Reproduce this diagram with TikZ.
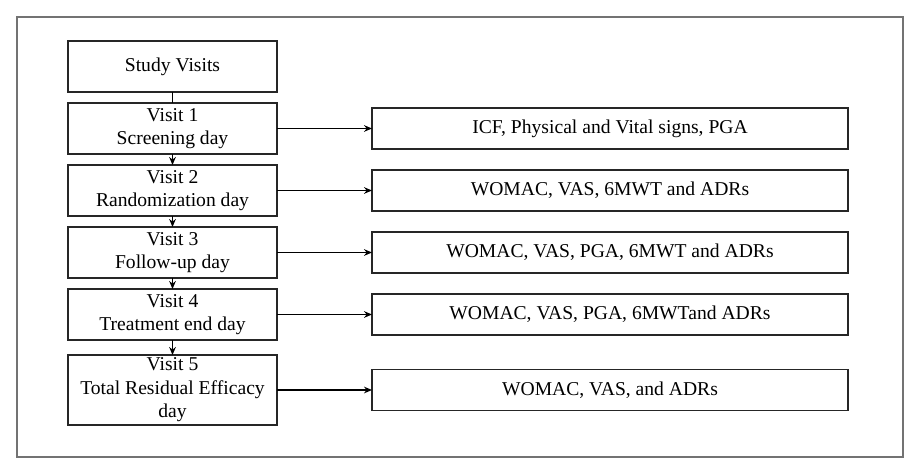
\documentclass[tikz,border=0pt]{standalone}
\usepackage{fontspec}
\setmainfont{Liberation Serif}
\usepackage{tikz}
\usetikzlibrary{arrows.meta, positioning}
\tikzset{
    visitbox/.style = {rectangle, minimum width=156.75pt, minimum height=38.25pt, inner sep=0pt, outer sep=0pt, align=center, draw=black!85, line width=0.9pt, font=\fontsize{14.7}{17.6}\selectfont},
    itembox/.style = {rectangle, minimum width=357pt, minimum height=30.75pt, inner sep=0pt, outer sep=0pt, align=center, draw=black!85, line width=0.9pt, font=\fontsize{14.7}{17.6}\selectfont},
    arrow/.style = {line width=1pt, -{Stealth[length=6pt,width=5pt]}},
    link/.style = {line width=1pt}
}
\begin{document}
\begin{tikzpicture}[x=0.75pt, y=-0.75pt, node distance=8.25pt]
\useasboundingbox (0,0) rectangle (917,474);
\draw [black!55, line width=0.8pt] (17,17) rectangle (903,457);

\node (study) [visitbox] at (172.5,66.5) {Study Visits};
\node (visita) [visitbox, below=of study] {Visit 1\\Screening day};
\node (visitb) [visitbox, below=of visita] {Visit 2\\Randomization day};
\node (visitc) [visitbox, below=of visitb] {Visit 3\\Follow-up day};
\node (visitd) [visitbox, below=of visitc] {Visit 4\\Treatment end day};
\node (visite) [visitbox, below=11.25pt of visitd, minimum height=52.5pt] {Visit 5\\Total Residual Efficacy\\day};

\node (itema) [itembox, right=71.25pt of visita] {ICF, Physical and Vital signs, PGA};
\node (itemb) [itembox, right=71.25pt of visitb] {WOMAC, VAS, 6MWT and ADRs};
\node (itemc) [itembox, right=71.25pt of visitc] {WOMAC, VAS, PGA, 6MWT and ADRs};
\node (itemd) [itembox, right=71.25pt of visitd] {WOMAC, VAS, PGA, 6MWTand ADRs};
\node (iteme) [itembox, right=71.25pt of visite] {WOMAC, VAS, and ADRs};

\draw [link] (study) -- (visita);
\draw [arrow] (visita) -- (visitb);
\draw [arrow] (visitb) -- (visitc);
\draw [arrow] (visitc) -- (visitd);
\draw [arrow] (visitd) -- (visite);
\draw [arrow] (visita) -- (itema);
\draw [arrow] (visitb) -- (itemb);
\draw [arrow] (visitc) -- (itemc);
\draw [arrow] (visitd) -- (itemd);
\draw [arrow] (visite) -- (iteme);
\end{tikzpicture}
\end{document}
